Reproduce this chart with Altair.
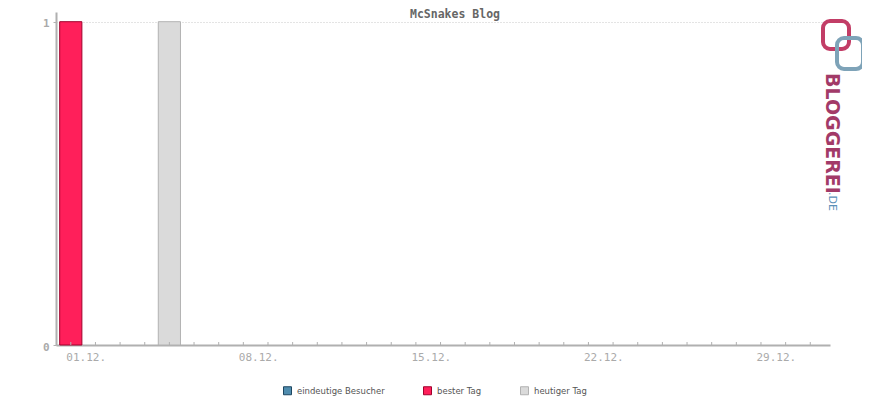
import altair as alt
import pandas as pd

# ---- data ----
days = list(range(1, 32))
visitors = [1, 0, 0, 0, 1]          # recorded days so far (December)
best_day = 1
today = 5
series = ["eindeutige Besucher", "bester Tag", "heutiger Tag"]
fills = ["#4f8cae", "#ff1f5a", "#dadada"]
strokes = ["#1d4660", "#a0002c", "#b2b2b2"]
tick_values = [1, 8, 15, 22, 29]
tick_labels = ["01.12.", "08.12.", "15.12.", "22.12.", "29.12."]
title_text = "McSnakes Blog"
logo_main = "BLOGGEREI"
logo_tld = ".DE"

rows = []
for d, v in zip(days, visitors):
    if d == best_day:
        cat = series[1]
    elif d == today:
        cat = series[2]
    else:
        cat = series[0]
    rows.append({"day": d, "value": v, "series": cat})
bars_df = pd.DataFrame(rows)
ticks_df = pd.DataFrame({"day": days})

W, H = 774, 333
GREY = "#b0b0b0"
LBL = "#aaaaaa"

label_expr = "{" + ",".join(f"'{v}':'{l}'" for v, l in zip(tick_values, tick_labels)) + "}[datum.value]"

xscale = alt.Scale(domain=[0.4, 31.8], nice=False, zero=False, padding=0)
yscale = alt.Scale(domain=[0, 1.03], nice=False, padding=0)

leg = dict(title=None, orient="none", legendX=227, legendY=374,
           direction="horizontal", symbolType="square",
           symbolSize=64, symbolStrokeWidth=1, labelFont="DejaVu Sans",
           labelFontSize=8.5, labelColor="#555555", labelOffset=5,
           columnPadding=36, padding=0)

bars = alt.Chart(bars_df).transform_filter("datum.value > 0").transform_calculate(
    x1="datum.day - 0.45", x2="datum.day + 0.45"
).mark_bar(strokeWidth=1, opacity=1, orient="vertical").encode(
    x=alt.X("x1:Q", scale=xscale, title=None,
            axis=alt.Axis(values=tick_values, labelExpr=label_expr, tickSize=0,
                          domainColor=GREY, domainWidth=2, grid=False,
                          labelFont="DejaVu Sans Mono", labelFontSize=11, labelColor=LBL,
                          labelAlign="left", labelOffset=-5, labelBaseline="middle",
                          labelPadding=12)),
    x2="x2:Q",
    y=alt.Y("value:Q", scale=yscale, title=None,
            axis=alt.Axis(values=[0, 1], format="d", tickSize=3, tickColor=GREY, domainColor=GREY,
                          domainWidth=2, grid=True, gridColor="#c8c8c8", gridDash=[1, 2],
                          labelFont="DejaVu Sans Mono", labelFontSize=11, labelColor=LBL,
                          labelFontWeight="bold", labelPadding=4, labelOffset=2)),
    y2=alt.Y2(datum=0),
    fill=alt.Fill("series:N", scale=alt.Scale(domain=series, range=fills),
                  legend=alt.Legend(**leg)),
    stroke=alt.Stroke("series:N", scale=alt.Scale(domain=series, range=strokes),
                      legend=alt.Legend(**leg)),
)

ticks = alt.Chart(ticks_df).mark_rule(color=GREY, strokeWidth=1).encode(
    x=alt.X("day:Q", scale=xscale),
    y=alt.value(H - 3),
    y2=alt.value(H),
)

title = alt.Chart(pd.DataFrame({"t": [title_text]})).mark_text(
    font="DejaVu Sans Mono", fontSize=11.5, fontWeight="bold", color="#666666",
    align="center", baseline="middle"
).encode(text="t:N", x=alt.value(399), y=alt.value(2.5))

logo_box = alt.Chart(pd.DataFrame({"k": [0]})).mark_rect(
    filled=False, strokeWidth=4, cornerRadius=7, clip=False
).encode(
    x=alt.value(767), x2=alt.value(793), y=alt.value(9), y2=alt.value(37),
    stroke=alt.value("#c23d66"),
)
logo_box2 = alt.Chart(pd.DataFrame({"k": [1]})).mark_rect(
    filled=False, strokeWidth=4, cornerRadius=7, clip=False
).encode(
    x=alt.value(781), x2=alt.value(807), y=alt.value(26), y2=alt.value(57),
    stroke=alt.value("#7ea3b8"),
)
logo1 = alt.Chart(pd.DataFrame({"t": [logo_main]})).mark_text(
    font="DejaVu Sans", fontSize=19, fontWeight="bold", color="#a23a68",
    align="left", baseline="middle", angle=90
).encode(text="t:N", x=alt.value(776), y=alt.value(61))
logo2 = alt.Chart(pd.DataFrame({"t": [logo_tld]})).mark_text(
    font="DejaVu Sans", fontSize=11, color="#5a90b8",
    align="left", baseline="middle", angle=90
).encode(text="t:N", x=alt.value(776), y=alt.value(180))

chart = alt.layer(bars, ticks, title, logo_box, logo_box2, logo1, logo2).properties(
    width=W, height=H,
    autosize=alt.AutoSizeParams(type="none"),
    padding={"left": 48, "top": 4, "right": 32, "bottom": 55},
).configure_view(stroke=None)

chart.save("out.html", embed_options={"renderer": "svg", "actions": False})
